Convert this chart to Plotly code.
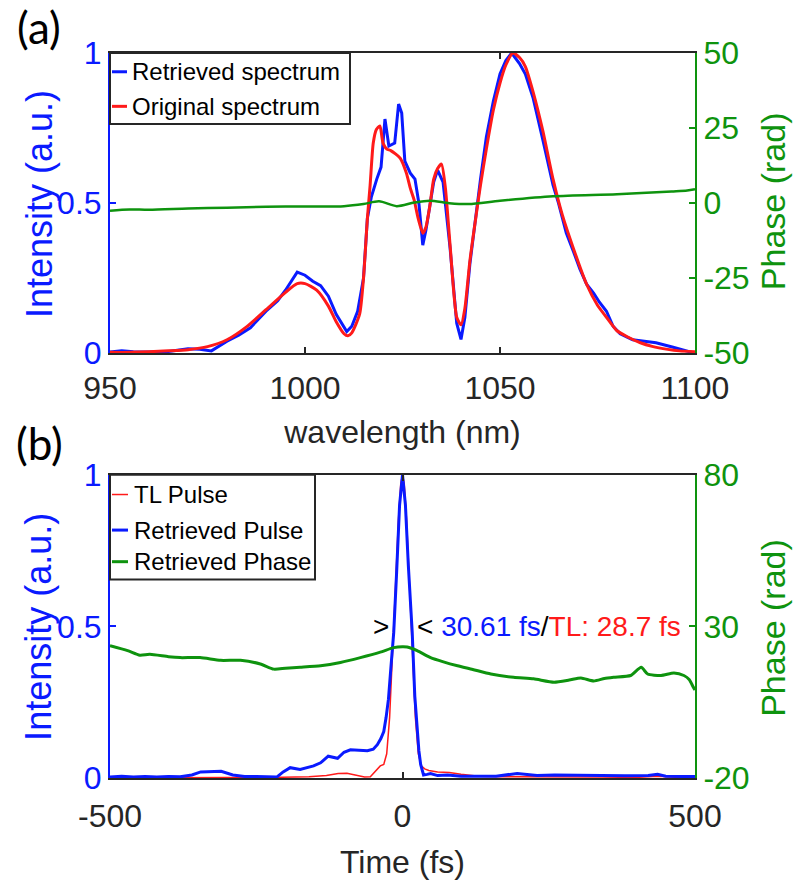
import plotly.graph_objects as go

# ---------------- data: panel (a) ----------------
wl_orig = [950, 955, 960, 965, 970, 975, 980, 985, 990, 995, 998, 1000, 1003, 1006, 1008, 1010, 1011, 1012, 1014, 1015,
           1016, 1016.7, 1017.5, 1018.3, 1019.2, 1020, 1021, 1022, 1024.4, 1026, 1027, 1028, 1029, 1030.2, 1031, 1032,
           1033, 1034, 1035, 1036, 1037.2, 1038.9, 1040, 1041, 1042.3, 1044, 1045, 1046.5, 1048.3, 1050, 1051.5, 1053.3,
           1055, 1056.5, 1058.5, 1061, 1063.6, 1066, 1068.8, 1072.2, 1075, 1077.3, 1080, 1082.5, 1086, 1089, 1093, 1096, 1100]
orig_spec = [0.003, 0.003, 0.005, 0.008, 0.012, 0.022, 0.045, 0.088, 0.145, 0.203, 0.232, 0.232, 0.21, 0.157, 0.105,
             0.065, 0.058, 0.068, 0.13, 0.25, 0.45, 0.56, 0.70, 0.745, 0.757, 0.70, 0.68, 0.675, 0.65, 0.60, 0.55, 0.51,
             0.45, 0.40, 0.42, 0.49, 0.58, 0.615, 0.63, 0.55, 0.36, 0.12, 0.095, 0.15, 0.31, 0.47, 0.56, 0.68, 0.81, 0.90,
             0.96, 1.0, 0.985, 0.955, 0.87, 0.74, 0.58, 0.46, 0.35, 0.23, 0.16, 0.12, 0.075, 0.056, 0.035, 0.023, 0.013,
             0.008, 0.005]

wl_ret = [950, 953, 956, 960, 965, 970, 973, 976, 980, 983, 986, 990, 993, 995, 998, 1000, 1002, 1004, 1006, 1008,
          1010.7, 1012, 1013.5, 1015, 1016, 1017, 1018.4, 1019.5, 1020.5, 1021.5, 1023, 1024, 1024.8, 1025.6, 1027,
          1028.2, 1029.2, 1030.2, 1031, 1032, 1033, 1034, 1035.4, 1037.2, 1038.9, 1040, 1041, 1042.3, 1044, 1045,
          1046.5, 1048.3, 1050, 1051.5, 1053, 1055, 1056.5, 1058.5, 1061, 1063.6, 1065, 1067, 1068.8, 1070.5, 1072.2,
          1074, 1075.5, 1077.3, 1079, 1080.8, 1084, 1087, 1090, 1094.4, 1097, 1100]
ret_spec = [0.004, 0.008, 0.005, 0.004, 0.006, 0.015, 0.013, 0.008, 0.04, 0.06, 0.085, 0.14, 0.175, 0.21, 0.27, 0.26,
            0.24, 0.225, 0.19, 0.13, 0.072, 0.09, 0.14, 0.25, 0.45, 0.52, 0.58, 0.62, 0.78, 0.69, 0.70, 0.83, 0.80,
            0.64, 0.60, 0.58, 0.50, 0.36, 0.41, 0.49, 0.57, 0.61, 0.57, 0.35, 0.10, 0.046, 0.12, 0.30, 0.48, 0.58,
            0.72, 0.84, 0.93, 0.975, 1.0, 0.965, 0.93, 0.85, 0.71, 0.56, 0.50, 0.40, 0.34, 0.28, 0.23, 0.20, 0.17,
            0.14, 0.09, 0.065, 0.045, 0.04, 0.035, 0.02, 0.01, 0.0]

wl_phase = [950, 955, 960, 970, 980, 990, 1000, 1010, 1015, 1019, 1023.5, 1028, 1032, 1037, 1042, 1050, 1063.6,
            1080, 1094, 1098, 1100]
phase_a = [-2.5, -2.1, -2.2, -1.8, -1.5, -1.2, -1.1, -1.0, -0.3, 0.6, -1.0, 0.2, 0.8, 0.0, -0.3, 0.8, 2.3,
           3.0, 3.9, 4.2, 4.6]

# ---------------- data: panel (b) ----------------
t_tl = [-500, -450, -400, -350, -300, -250, -200, -160, -130, -110, -95, -80, -65, -55, -45, -38, -32, -27, -22, -17,
        -12, -7, -3, 0, 3, 7, 12, 17, 22, 27, 32, 38, 45, 60, 80, 100, 130, 170, 220, 280, 340, 400, 436, 470, 500]
tl_pulse = [0, 0.001, 0.002, 0.003, 0.002, 0.001, 0.002, 0.004, 0.008, 0.015, 0.016, 0.01, 0.003, 0.004, 0.025,
            0.04, 0.045, 0.08, 0.2, 0.4, 0.63, 0.85, 0.97, 1.0, 0.97, 0.85, 0.63, 0.4, 0.2, 0.08, 0.04, 0.03, 0.025,
            0.02, 0.018, 0.012, 0.006, 0.004, 0.003, 0.002, 0.003, 0.002, 0.006, 0.002, 0.001]

t_ret = [-500, -480, -460, -440, -420, -400, -380, -360, -345, -330, -310, -290, -270, -250, -230, -215, -204, -192,
         -175, -160, -152, -140, -127, -111, -100, -89, -75, -60, -50, -43, -37, -32, -28, -24, -20, -15, -10, -5, 0,
         5, 10, 16.6, 21, 25, 28, 31, 36, 42, 48, 60, 77, 100, 130, 160, 196, 230, 260, 300, 340, 380, 420, 436,
         450, 480, 500]
ret_pulse = [0.003, 0.006, 0.003, 0.005, 0.003, 0.005, 0.004, 0.01, 0.02, 0.02, 0.022, 0.01, 0.005, 0.005, 0.004,
             0.003, 0.02, 0.034, 0.028, 0.035, 0.04, 0.05, 0.072, 0.065, 0.085, 0.093, 0.092, 0.09, 0.095, 0.11,
             0.13, 0.153, 0.2, 0.26, 0.36, 0.48, 0.68, 0.9, 1.0, 0.9, 0.7, 0.48, 0.27, 0.15, 0.09, 0.045, 0.01, 0.012,
             0.015, 0.008, 0.01, 0.006, 0.005, 0.006, 0.015, 0.008, 0.01, 0.01, 0.008, 0.007, 0.008, 0.012, 0.006,
             0.005, 0.005]

t_ph = [-500, -470, -449, -432, -400, -380, -346, -311, -277, -243, -220, -200, -175, -140, -106, -72, -38, -15, 0, 8,
        25, 48, 70, 94, 120, 151, 190, 224, 259, 285, 305, 327, 345, 361, 390, 408, 419, 442, 464, 481, 490, 497, 500]
phase_b = [23.6, 22.0, 20.5, 20.8, 20.0, 19.7, 19.7, 18.8, 18.8, 17.6, 15.9, 16.2, 16.5, 17.0, 18.1, 19.7, 21.5,
           23.0, 23.3, 23.2, 22.0, 19.7, 18.3, 17.0, 15.8, 14.3, 13.2, 12.7, 11.6, 12.3, 13.0, 12.0, 12.8, 13.2,
           13.8, 16.5, 14.3, 13.8, 14.6, 13.8, 12.5, 10.0, 9.0]

# ---------------- axis ticks / labels ----------------
wl_ticks = [950, 1000, 1050, 1100]
int_ticks = [0, 0.5, 1]
int_ticktext = ["0", "0.5", "1"]
pha_ticks = [-50, -25, 0, 25, 50]
pha_ticktext = ["-50", "-25", "0", "25", "50"]
t_ticks = [-500, 0, 500]
t_ticktext = ["-500", "0", "500"]
phb_ticks = [-20, 30, 80]
phb_ticktext = ["-20", "30", "80"]

legend_a = ["Retrieved spectrum", "Original spectrum"]
legend_b = ["TL Pulse", "Retrieved Pulse", "Retrieved Phase"]

BLUE = "#0a1aff"
RED = "#ff1a1a"
GREEN = "#0e930e"
DARK = "#262626"
FONT = "Liberation Sans, Arial, sans-serif"

W, H = 793, 886
ML, MR, MT, MB = 110, 98, 53, 99
PW, PH = W - ML - MR, H - MT - MB


def px(x):
    return (x - ML) / PW


def py(y):
    return (H - MB - y) / PH


fig = go.Figure()

# panel (a)
fig.add_trace(go.Scatter(x=wl_ret, y=ret_spec, mode="lines", name=legend_a[0],
                         line=dict(color=BLUE, width=3), xaxis="x", yaxis="y"))
fig.add_trace(go.Scatter(x=wl_orig, y=orig_spec, mode="lines", name=legend_a[1],
                         line=dict(color=RED, width=3, shape="spline", smoothing=0.6), xaxis="x", yaxis="y"))
fig.add_trace(go.Scatter(x=wl_phase, y=phase_a, mode="lines", name="Phase",
                         line=dict(color=GREEN, width=2.5, shape="spline", smoothing=0.8), xaxis="x", yaxis="y2"))

# panel (b)
fig.add_trace(go.Scatter(x=t_tl, y=tl_pulse, mode="lines", name=legend_b[0],
                         line=dict(color=RED, width=1.5), xaxis="x2", yaxis="y3"))
fig.add_trace(go.Scatter(x=t_ret, y=ret_pulse, mode="lines", name=legend_b[1],
                         line=dict(color=BLUE, width=3), xaxis="x2", yaxis="y3"))
fig.add_trace(go.Scatter(x=t_ph, y=phase_b, mode="lines", name=legend_b[2],
                         line=dict(color=GREEN, width=3, shape="spline", smoothing=0.6), xaxis="x2", yaxis="y4"))

top_dom = [py(357), 1.0]
bot_dom = [0.0, py(480)]


def xcommon(standoff):
    return dict(showgrid=False, zeroline=False, ticks="inside", ticklen=6, tickwidth=2, tickcolor=DARK,
                showline=True, linecolor=DARK, linewidth=2, mirror="ticks", ticklabelstandoff=standoff,
                tickfont=dict(size=32, color=DARK, family=FONT))


def ycommon(color):
    return dict(showgrid=False, zeroline=False, ticks="inside", ticklen=6, tickwidth=2, tickcolor=color,
                showline=True, linecolor=color, linewidth=2, tickfont=dict(size=32, color=color, family=FONT))


fig.update_layout(
    width=W, height=H, margin=dict(l=ML, r=MR, t=MT, b=MB),
    paper_bgcolor="white", plot_bgcolor="white", showlegend=False,
    font=dict(family=FONT, color=DARK),
    xaxis=dict(domain=[0, 1], anchor="y", range=[950, 1100], tickvals=wl_ticks,
               title=dict(text="wavelength (nm)", font=dict(size=32, color=DARK), standoff=16), **xcommon(5)),
    yaxis=dict(domain=top_dom, anchor="x", range=[0, 1], tickvals=int_ticks, ticktext=int_ticktext,
               **ycommon(BLUE)),
    yaxis2=dict(overlaying="y", side="right", anchor="x", range=[-50, 50], tickvals=pha_ticks,
                ticktext=pha_ticktext, **ycommon(GREEN)),
    xaxis2=dict(domain=[0, 1], anchor="y3", range=[-500, 500], tickvals=t_ticks, ticktext=t_ticktext,
                title=dict(text="Time (fs)", font=dict(size=32, color=DARK), standoff=17), **xcommon(9)),
    yaxis3=dict(domain=bot_dom, anchor="x2", range=[0, 1], tickvals=int_ticks, ticktext=int_ticktext,
                **ycommon(BLUE)),
    yaxis4=dict(overlaying="y3", side="right", anchor="x2", range=[-20, 80], tickvals=phb_ticks,
                ticktext=phb_ticktext, **ycommon(GREEN)),
)

shapes = []
annotations = []

# y-axis titles (placed as rotated annotations)
for (xc, yc, txt, col, fs) in [(39, 206, "Intensity (a.u.)", BLUE, 36), (773, 203, "Phase (rad)", GREEN, 34),
                               (39, 634, "Intensity (a.u.)", BLUE, 36), (773, 635, "Phase (rad)", GREEN, 34)]:
    annotations.append(dict(xref="paper", yref="paper", x=px(xc), y=py(yc), text=txt, showarrow=False,
                            textangle=-90, xanchor="center", yanchor="middle",
                            font=dict(size=fs, color=col, family=FONT)))

# manual legend (a)
shapes.append(dict(type="rect", xref="paper", yref="paper", x0=px(110), x1=px(350), y0=py(125), y1=py(53),
                   line=dict(color=DARK, width=2), fillcolor="white", layer="above"))
for i, (name, col, lw) in enumerate(zip(legend_a, [BLUE, RED], [3, 3])):
    yy = [72, 107][i]
    shapes.append(dict(type="line", xref="paper", yref="paper", x0=px(112), x1=px(127), y0=py(yy), y1=py(yy),
                       line=dict(color=col, width=lw)))
    annotations.append(dict(xref="paper", yref="paper", x=px(130), y=py(yy), text=name, showarrow=False,
                            xanchor="left", yanchor="middle", font=dict(size=24, color="black", family=FONT)))

# manual legend (b)
shapes.append(dict(type="rect", xref="paper", yref="paper", x0=px(110), x1=px(315), y0=py(586), y1=py(480),
                   line=dict(color=DARK, width=2), fillcolor="white", layer="above"))
for i, (name, col, lw) in enumerate(zip(legend_b, [RED, BLUE, GREEN], [1.5, 3, 3])):
    yy = [500, 536, 568][i]
    shapes.append(dict(type="line", xref="paper", yref="paper", x0=px(112), x1=px(128), y0=py(yy), y1=py(yy),
                       line=dict(color=col, width=lw)))
    annotations.append(dict(xref="paper", yref="paper", x=px(132), y=py(yy), text=name, showarrow=False,
                            xanchor="left", yanchor="middle", font=dict(size=24, color="black", family=FONT)))

# FWHM markers in panel (b)
annotations.append(dict(xref="x2", yref="y3", x=-36, y=0.5, text="&gt;", showarrow=False,
                        xanchor="center", yanchor="middle", font=dict(size=28, color="black", family=FONT)))
annotations.append(dict(xref="x2", yref="y3", x=21, y=0.5,
                        text="&lt; <span style='color:%s'>30.61 fs</span>/<span style='color:%s'>TL: 28.7 fs</span>"
                             % (BLUE, RED),
                        showarrow=False, xanchor="left", yanchor="middle",
                        font=dict(size=28, color="black", family=FONT)))

# panel labels
annotations.append(dict(xref="paper", yref="paper", x=px(39), y=py(27), text="(a)", showarrow=False,
                        xanchor="center", yanchor="middle", font=dict(size=44, color="black", family="Lato")))
annotations.append(dict(xref="paper", yref="paper", x=px(39), y=py(448), text="(b)", showarrow=False,
                        xanchor="center", yanchor="middle", font=dict(size=44, color="black", family="Lato")))

fig.update_layout(shapes=shapes, annotations=annotations)

fig.write_html("out.html", config={"displayModeBar": False},
               post_script="document.body.style.margin='0px';")
